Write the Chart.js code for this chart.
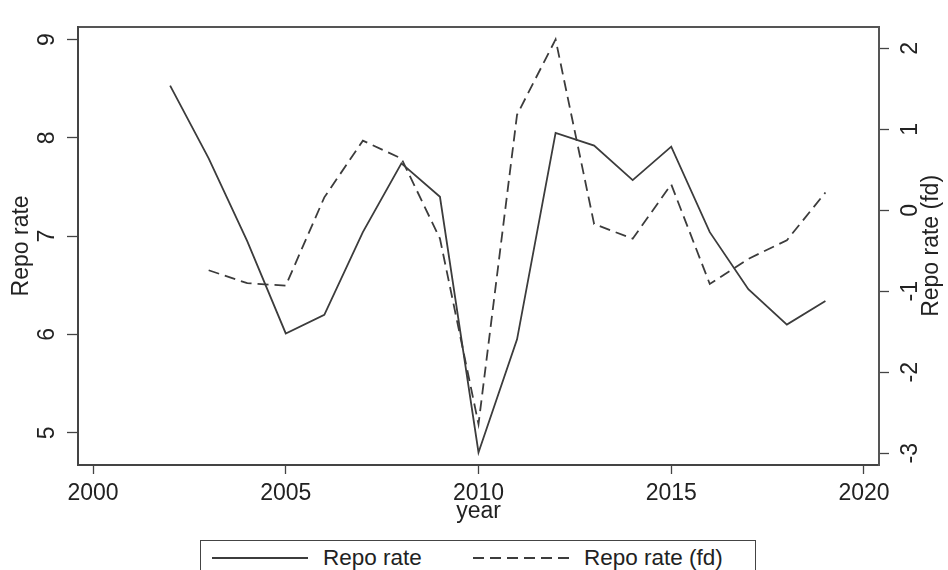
<!DOCTYPE html>
<html>
<head>
<meta charset="utf-8">
<script src="https://cdn.jsdelivr.net/npm/chart.js@4"></script>
<style>
  body { margin: 0; background: #fff; }
  #wrap { position: relative; width: 948px; height: 570px; overflow: hidden; }
  #legend { position: absolute; left: 200px; top: 540px; width: 556px; height: 60px;
            border: 1.5px solid #444; background: #fff; box-sizing: border-box;
            font-family: "Liberation Sans", Arial, sans-serif; font-size: 22.5px; color: #222; }
  #legend .item { position: absolute; top: 4px; height: 26px; display: flex; align-items: center; }
  #legend .item span { margin-left: 15px; }
</style>
</head>
<body>
<div id="wrap">
  <canvas id="main" width="948" height="570"></canvas>
  <div id="legend"></div>
</div>
<script>
// data
const years = [2002,2003,2004,2005,2006,2007,2008,2009,2010,2011,2012,2013,2014,2015,2016,2017,2018,2019];
const repoRate = [8.53,7.79,6.95,6.01,6.20,7.04,7.74,7.40,4.80,5.95,8.05,7.92,7.57,7.91,7.04,6.46,6.10,6.34];
const repoRateFd = [null,-0.74,-0.90,-0.93,0.16,0.86,0.64,-0.35,-2.64,1.18,2.11,-0.17,-0.35,0.32,-0.91,-0.60,-0.37,0.22];
const xTicks = [2000,2005,2010,2015,2020];
const leftTicks = [5,6,7,8,9];
const rightTicks = [-3,-2,-1,0,1,2];

const FONT = "'Liberation Sans', Arial, sans-serif";
const ink = '#222';
const lineCol = '#3c3c3c';

const pts = (vals) => {
    let out = [];
    for (let i = 0; i < years.length; i++){
        if (vals[i] !== null) out.push({x: years[i], y: vals[i]});
    }
    return out;
}
const setTicks = (list) => (s) => { s.ticks = list.map(v => ({value: v})); };
const plain = (v) => String(v);

// right axis title reads bottom-to-top in the original, chart.js rotates it the other way
const rightTitle = {
    id: 'rightTitle',
    afterDraw(chart){
        const s = chart.scales.y1;
        const ctx = chart.ctx;
        ctx.save();
        ctx.translate(932, (s.top + s.bottom) / 2);
        ctx.rotate(-Math.PI / 2);
        ctx.font = "23px " + FONT;
        ctx.fillStyle = ink;
        ctx.textAlign = 'center';
        ctx.textBaseline = 'middle';
        ctx.fillText('Repo rate (fd)', 0, 0);
        ctx.restore();
    }
}

const chart = new Chart(document.getElementById('main'), {
    type: 'line',
    data: {
        datasets: [
            {
                label: 'Repo rate',
                data: pts(repoRate),
                yAxisID: 'y',
                borderColor: lineCol,
                borderWidth: 1.8,
                pointRadius: 0,
                tension: 0,
            },
            {
                label: 'Repo rate (fd)',
                data: pts(repoRateFd),
                yAxisID: 'y1',
                borderColor: lineCol,
                borderWidth: 1.8,
                borderDash: [11, 6],
                pointRadius: 0,
                tension: 0,
            }
        ]
    },
    options: {
        responsive: false,
        animation: false,
        devicePixelRatio: 1,
        layout: { padding: { top: 17, left: 0, right: 0, bottom: 0 } },
        plugins: { legend: { display: false }, tooltip: { enabled: false } },
        scales: {
            x: {
                type: 'linear', position: 'bottom',
                min: 1999.61, max: 2020.39,
                afterBuildTicks: setTicks(xTicks),
                afterFit: (s) => { s.height = 105; },
                grid: { drawOnChartArea: false, tickLength: 9, color: '#444', tickWidth: 1.3 },
                border: { color: '#444', width: 2 },
                ticks: { color: ink, font: { family: FONT, size: 23 }, padding: 6, maxRotation: 0, autoSkip: false, callback: plain },
                title: { display: true, text: 'year', color: ink, font: { family: FONT, size: 23 }, padding: { top: 0, bottom: 45 } }
            },
            x2: {
                type: 'linear', position: 'top',
                min: 1999.61, max: 2020.39,
                afterFit: (s) => { s.height = 0; },
                grid: { display: false },
                ticks: { display: false },
                border: { color: '#555', width: 2 }
            },
            y: {
                type: 'linear', position: 'left',
                min: 4.672, max: 9.129,
                afterBuildTicks: setTicks(leftTicks),
                afterFit: (s) => { s.width = 78; },
                grid: { drawOnChartArea: false, tickLength: 11, color: '#444', tickWidth: 1.3 },
                border: { color: '#444', width: 2 },
                ticks: { color: ink, font: { family: FONT, size: 23 }, minRotation: 90, maxRotation: 90, crossAlign: 'center', padding: 13, callback: plain },
                title: { display: true, text: 'Repo rate', color: ink, font: { family: FONT, size: 23 }, padding: { top: 8, bottom: 0 } }
            },
            y1: {
                type: 'linear', position: 'right',
                min: -3.145, max: 2.266,
                afterBuildTicks: setTicks(rightTicks),
                afterFit: (s) => { s.width = 69; },
                grid: { drawOnChartArea: false, tickLength: 10, color: '#444', tickWidth: 1.3 },
                border: { color: '#555', width: 2 },
                ticks: { color: ink, font: { family: FONT, size: 23 }, minRotation: 90, maxRotation: 90, crossAlign: 'center', padding: 11, callback: plain }
            }
        }
    },
    plugins: [rightTitle]
});

// legend box under the plot, built from the datasets
const legend = document.getElementById('legend');
const spots = [11, 272];
chart.data.datasets.forEach((d, i) => {
    const item = document.createElement('div');
    item.className = 'item';
    item.style.left = spots[i] + 'px';
    const dash = d.borderDash ? d.borderDash.join(' ') : 'none';
    item.innerHTML = `<svg width="96" height="4"><line x1="0" y1="2" x2="96" y2="2" stroke="${d.borderColor}" stroke-width="${d.borderWidth}" stroke-dasharray="${dash}"/></svg><span>${d.label}</span>`;
    legend.appendChild(item);
});
</script>
</body>
</html>
